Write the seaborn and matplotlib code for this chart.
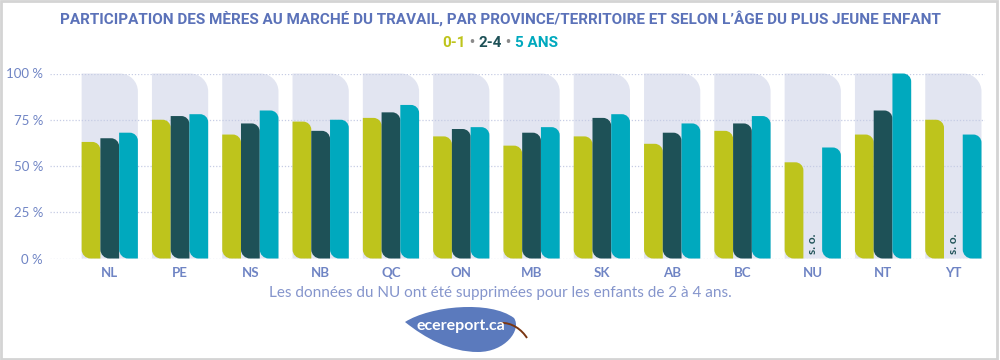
import numpy as np
import pandas as pd
import matplotlib
matplotlib.use('Agg')
import matplotlib.pyplot as plt
import seaborn as sns
from matplotlib.path import Path
from matplotlib.patches import PathPatch, Rectangle

# data
provinces = ['NL', 'PE', 'NS', 'NB', 'QC', 'ON', 'MB', 'SK', 'AB', 'BC', 'NU', 'NT', 'YT']
age_groups = ['0-1', '2-4', '5 ANS']
age_0_1 = [63, 75, 67, 74, 76, 66, 61, 66, 62, 69, 52, 67, 75]
age_2_4 = [65, 77, 73, 69, 79, 70, 68, 76, 68, 73, np.nan, 80, np.nan]
age_5 = [68, 78, 80, 75, 83, 71, 71, 78, 73, 77, 60, 100, 67]
yticks = [0, 25, 50, 75, 100]

green = '#bec41c'
dark = '#1e5157'
teal = '#00a9be'
lav = '#e2e5f1'
blue = '#5b72b9'
tick_blue = '#6f84c4'

df = pd.DataFrame({
    'prov': provinces * 3,
    'age': ['0-1'] * 13 + ['2-4'] * 13 + ['5 ANS'] * 13,
    'val': age_0_1 + age_2_4 + age_5,
})
bg = pd.DataFrame({'prov': provinces, 'val': [100] * len(provinces)})

sns.set_style('white')
plt.rcParams['font.family'] = ['Lato', 'DejaVu Sans']

fig = plt.figure(figsize=(10, 3.6), dpi=100)
ax = fig.add_axes([0.05, 1 - 258.5 / 360, 0.935, (258.5 - 73.5) / 360])

sns.barplot(data=bg, x='prov', y='val', color=lav, width=0.8, ax=ax, saturation=1)
n_bg = len(ax.patches)
sns.barplot(data=df, x='prov', y='val', hue='age', hue_order=age_groups,
            palette=[green, dark, teal], width=0.8, gap=0, ax=ax, saturation=1,
            legend=False)

ax.set_xlim(-0.85, 12.45)
ax.set_ylim(0, 100)


def rounded(x0, y0, w, h, rx, ry, brx=0, bry=0):
    # top-right rounded, bottom-left rounded if brx > 0
    k = 0.5523
    x1, y1 = x0 + w, y0 + h
    ry = min(ry, h / 2)
    bry = min(bry, h / 2)
    verts = [(x0 + brx, y0), (x1, y0), (x1, y1 - ry),
             (x1, y1 - ry + k * ry), (x1 - rx + k * rx, y1), (x1 - rx, y1),
             (x0, y1)]
    codes = [Path.MOVETO, Path.LINETO, Path.LINETO,
             Path.CURVE4, Path.CURVE4, Path.CURVE4, Path.LINETO]
    if brx > 0:
        verts += [(x0, y0 + bry), (x0, y0 + bry - k * bry), (x0 + brx - k * brx, y0), (x0 + brx, y0)]
        codes += [Path.LINETO, Path.CURVE4, Path.CURVE4, Path.CURVE4]
    verts += [(0, 0)]
    codes += [Path.CLOSEPOLY]
    return Path(verts, codes)


px_x = 935 / 13.3
px_y = 185 / 100
patches = list(ax.patches)
for i, p in enumerate(patches):
    x0, y0, w, h = p.get_x(), p.get_y(), p.get_width(), p.get_height()
    fc = p.get_facecolor()
    p.remove()
    if not np.isfinite(h) or h <= 0:
        continue
    if i < n_bg:
        path = rounded(x0, y0, w, h, 18 / px_x, 18 / px_y)
        z = 1
    else:
        path = rounded(x0, y0, w, h, 8 / px_x, 8 / px_y, 9 / px_x, 9 / px_y)
        z = 2
    ax.add_patch(PathPatch(path, facecolor=fc, edgecolor='none', zorder=z, clip_on=False))

for j, p in enumerate(provinces):
    if not np.isfinite(age_2_4[j]):
        ax.text(j, 2.5, 's. o.', rotation=90, ha='center', va='bottom', fontsize=8.5,
                fontweight='bold', color=dark, zorder=3)

ax.set_axisbelow('line')
ax.yaxis.grid(True, linestyle=(0, (1, 1.5)), color='#c6cce4', linewidth=0.9)
ax.xaxis.grid(False)
for s in ax.spines.values():
    s.set_visible(False)
ax.set_yticks(yticks)
ax.set_yticklabels([f'{t} %' for t in yticks])
ax.tick_params(axis='both', length=0, colors=tick_blue, labelsize=9.5)
ax.tick_params(axis='y', pad=5)
ax.tick_params(axis='x', pad=6)
for lab in ax.get_xticklabels():
    lab.set_fontweight('bold')
ax.set_xlabel('')
ax.set_ylabel('')

# title
fig.text(0.5, 1 - 19 / 360, "PARTICIPATION DES MÈRES AU MARCHÉ DU TRAVAIL, PAR PROVINCE/TERRITOIRE ET SELON L\u2019ÂGE DU PLUS JEUNE ENFANT",
         ha='center', va='center', fontsize=11, fontweight='bold', color=blue,
         family=['Roboto', 'DejaVu Sans'])

# subtitle in colored pieces
pieces = [('0-1', green), (' \u2022 ', '#8a8a8a'), ('2-4', dark), (' \u2022 ', '#8a8a8a'), ('5 ANS', teal)]
fig.canvas.draw()
r = fig.canvas.get_renderer()
texts = []
for s, c in pieces:
    t = fig.text(0, 1 - 43 / 360, s, ha='left', va='center', fontsize=11, fontweight='bold',
                 color=c, family=['Roboto', 'DejaVu Sans'])
    texts.append(t)
widths = [t.get_window_extent(r).width for t in texts]
x = 500 - sum(widths) / 2
for t, w in zip(texts, widths):
    t.set_x(x / 1000)
    x += w

fig.text(0.5, 1 - 293 / 360, 'Les données du NU ont été supprimées pour les enfants de 2 à 4 ans.',
         ha='center', va='center', fontsize=11, color='#8595cc')

# leaf logo
def fp(x, y):
    return (x / 1000, 1 - y / 360)

leaf = Path([fp(405, 322), fp(430, 306), fp(490, 300), fp(514, 318),
             fp(522, 330), fp(505, 352), fp(478, 352),
             fp(450, 352), fp(425, 338), fp(405, 322)],
            [Path.MOVETO, Path.CURVE4, Path.CURVE4, Path.CURVE4,
             Path.CURVE4, Path.CURVE4, Path.CURVE4,
             Path.CURVE4, Path.CURVE4, Path.CURVE4])
fig.add_artist(PathPatch(leaf, facecolor='#5b7abd', edgecolor='none', transform=fig.transFigure))
stem = Path([fp(500, 323), fp(512, 322), fp(522, 330), fp(527, 338)],
            [Path.MOVETO, Path.CURVE4, Path.CURVE4, Path.CURVE4])
fig.add_artist(PathPatch(stem, facecolor='none', edgecolor='#7a3612', linewidth=1.4,
                         transform=fig.transFigure))
fig.text(0.461, 1 - 326 / 360, 'ecereport.ca', ha='center', va='center', fontsize=11.5,
         color='white', fontweight='bold')

# border
fig.add_artist(Rectangle((0.001, 0.004), 0.996, 0.994, transform=fig.transFigure,
                         facecolor='none', edgecolor='#d4d4d4', linewidth=2))

fig.savefig('out.png', dpi=100)
